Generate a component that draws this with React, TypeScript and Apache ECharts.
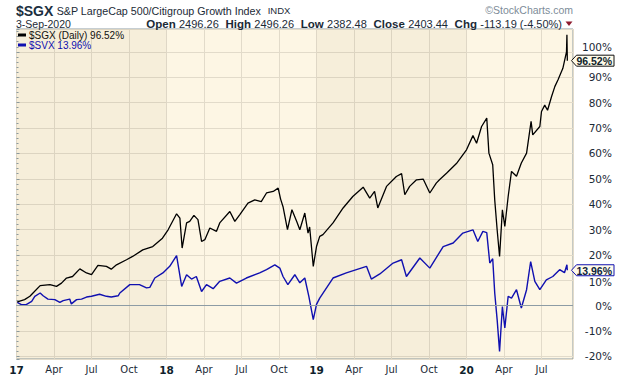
import { useEffect, useRef } from 'react';
import * as echarts from 'echarts';

// ---- Data (percent change since Jan 2017) ----
const sgxDates = [
  '2017-01-03','2017-01-21','2017-02-03','2017-02-10','2017-02-26','2017-03-22','2017-04-07','2017-04-19',
  '2017-05-01','2017-05-16','2017-06-03','2017-06-19','2017-07-01','2017-07-17','2017-08-07','2017-08-19',
  '2017-09-01','2017-09-25','2017-10-10','2017-11-04','2017-11-28','2017-12-22','2018-01-05','2018-01-26',
  '2018-02-03','2018-02-08','2018-02-18','2018-02-25','2018-03-07','2018-03-17','2018-03-26','2018-04-03',
  '2018-04-15','2018-05-01','2018-05-09','2018-06-03','2018-06-15','2018-06-27','2018-07-17','2018-08-03',
  '2018-08-19','2018-09-01','2018-09-17','2018-09-29','2018-10-05','2018-10-11','2018-10-22','2018-11-02',
  '2018-11-14','2018-11-21','2018-12-03','2018-12-11','2018-12-15','2018-12-24','2019-01-01','2019-01-09',
  '2019-01-17','2019-02-10','2019-03-05','2019-03-29','2019-04-23','2019-05-09','2019-05-21','2019-05-29',
  '2019-06-19','2019-07-13','2019-07-26','2019-08-03','2019-08-15','2019-09-01','2019-09-17','2019-10-03',
  '2019-10-19','2019-10-27','2019-11-13','2019-12-07','2020-01-01','2020-01-17','2020-01-26','2020-02-07',
  '2020-02-19','2020-02-24','2020-03-04','2020-03-09','2020-03-15','2020-03-21','2020-03-28','2020-04-03',
  '2020-04-11','2020-04-19','2020-05-01','2020-05-13','2020-05-26','2020-06-06','2020-06-10','2020-06-27',
  '2020-07-01','2020-07-09','2020-07-16','2020-07-26','2020-08-03','2020-08-11','2020-08-23','2020-09-01',
  '2020-09-02','2020-09-03',
];
const sgxValues = [
  1.5, 2.4, 3.7, 5.0, 7.9, 8.3, 7.6, 8.9,
  10.9, 11.5, 14.5, 12.9, 12.2, 15.9, 15.5, 14.4,
  16.1, 18.1, 19.4, 22.0, 23.3, 26.6, 29.9, 36.2,
  34.5, 22.7, 32.6, 33.2, 35.6, 33.9, 25.3, 26.0,
  30.6, 29.3, 32.6, 37.1, 33.2, 35.9, 40.4, 41.7,
  41.0, 44.4, 45.0, 46.3, 42.0, 39.0, 30.0, 37.8,
  33.0, 29.9, 36.5, 28.6, 31.0, 15.5, 23.3, 27.3,
  28.0, 32.6, 38.5, 43.0, 46.7, 42.4, 45.0, 38.5,
  47.0, 50.9, 52.0, 43.7, 47.0, 49.6, 49.9, 44.4,
  48.3, 49.6, 52.2, 56.0, 61.4, 67.0, 64.0, 70.6,
  73.9, 60.1, 55.5, 41.7, 29.9, 19.4, 37.8, 31.2,
  43.0, 52.9, 51.0, 56.2, 60.1, 72.6, 67.3, 70.6,
  76.5, 79.0, 77.0, 82.4, 86.3, 89.0, 93.5, 100.0,
  106.7, 96.52,
];

const svxDates = [
  '2017-01-03','2017-01-13','2017-01-25','2017-02-07','2017-02-14','2017-02-26','2017-03-05','2017-03-17',
  '2017-04-03','2017-04-15','2017-04-23','2017-05-09','2017-05-13','2017-05-26','2017-06-07','2017-06-19',
  '2017-07-01','2017-07-21','2017-08-07','2017-08-19','2017-09-05','2017-09-09','2017-10-03','2017-10-27',
  '2017-11-13','2017-11-21','2017-12-03','2017-12-23','2018-01-09','2018-01-26','2018-02-01','2018-02-07',
  '2018-02-18','2018-03-01','2018-03-13','2018-03-26','2018-04-07','2018-04-23','2018-05-09','2018-06-03',
  '2018-06-19','2018-07-13','2018-08-15','2018-09-01','2018-09-21','2018-10-03','2018-10-11','2018-10-23',
  '2018-11-09','2018-11-21','2018-12-03','2018-12-13','2018-12-24','2019-01-01','2019-01-09','2019-02-10',
  '2019-03-13','2019-05-01','2019-05-13','2019-06-03','2019-07-05','2019-07-26','2019-08-07','2019-09-09',
  '2019-10-03','2019-11-05','2019-11-29','2019-12-23','2020-01-17','2020-01-29','2020-02-10','2020-02-19',
  '2020-02-26','2020-03-04','2020-03-09','2020-03-15','2020-03-21','2020-03-28','2020-04-03','2020-04-11',
  '2020-04-19','2020-05-01','2020-05-13','2020-05-26','2020-06-05','2020-06-15','2020-06-27','2020-07-13',
  '2020-07-29','2020-08-15','2020-08-27','2020-09-02','2020-09-03',
];
const svxValues = [
  1.3, 0.4, 0.4, 1.7, 3.7, 5.0, 3.9, 2.6,
  2.4, 1.3, 2.0, 2.6, 0.7, 2.4, 2.6, 3.4,
  3.7, 4.5, 3.7, 3.4, 3.9, 5.0, 8.3, 8.3,
  7.0, 7.2, 10.9, 12.9, 15.5, 19.7, 14.0, 7.6,
  12.2, 10.5, 11.5, 5.6, 8.3, 6.7, 9.6, 10.9,
  8.9, 10.9, 12.9, 14.2, 16.1, 14.8, 11.5, 8.3,
  12.2, 9.0, 10.9, 3.7, -5.5, 0.5, 3.0, 10.9,
  12.9, 15.5, 10.5, 12.5, 16.8, 18.1, 11.5, 18.8,
  14.8, 23.3, 24.7, 28.6, 29.9, 25.3, 29.3, 28.8,
  16.8, 18.5, 5.0, -5.5, -18.0, -0.3, -8.8, 3.7,
  3.0, 6.3, -0.9, 6.3, 17.4, 9.6, 6.3, 10.2,
  11.5, 14.2, 13.0, 16.1, 13.96,
];

const yearLabels = ['17', '18', '19', '20'];
const quarterLabels = ['Apr', 'Jul', 'Oct'];
const sgxName = '$SGX (Daily)';
const svxName = '$SVX';
const ohlc = [
  ['Open', '2496.26'],
  ['High', '2496.26'],
  ['Low', '2382.48'],
  ['Close', '2403.44'],
  ['Chg', '-113.19 (-4.50%)'],
];

const toMonthIndex = (d: string) => {
  const [y, m, day] = d.split('-').map(Number);
  const dim = new Date(y, m, 0).getDate();
  return (y - 2017) * 12 + (m - 1) + (day - 1) / dim;
};

const X_MAX = 44.52;
const TEXT = '#1b2a36';
const SANS = '"Liberation Sans", Arial, sans-serif';
const VERD = '"DejaVu Sans", Verdana, sans-serif';

export default function App() {
  const ref = useRef<HTMLDivElement>(null);

  useEffect(() => {
    if (!ref.current) return;
    const chart = echarts.init(ref.current, null, { renderer: 'svg' });
    const sgxData = sgxDates.map((d, i) => [toMonthIndex(d), sgxValues[i]]);
    const svxData = svxDates.map((d, i) => [toMonthIndex(d), svxValues[i]]);
    const sgxLast = sgxValues[sgxValues.length - 1];
    const svxLast = svxValues[svxValues.length - 1];

    const ohlcRich = ohlc.map(([k, v]) => `{b|${k}} {n|${v}}`).join('  ');

    chart.setOption({
      animation: false,
      backgroundColor: '#ffffff',
      textStyle: { fontFamily: SANS },
      grid: {
        left: 16.5, right: 47, top: 29, bottom: 17,
        show: true, backgroundColor: '#fdf6e4', borderColor: '#8d9ca5', borderWidth: 1,
      },
      legend: {
        orient: 'vertical', left: 18, top: 30, padding: 0, itemGap: 0,
        itemWidth: 8, itemHeight: 3, icon: 'rect',
        data: [
          { name: sgxName, textStyle: { color: '#111111' } },
          { name: svxName, textStyle: { color: '#1010b0' } },
        ],
        textStyle: { fontSize: 10, fontFamily: SANS, lineHeight: 9.5, padding: [0, 0, 0, -2] },
        formatter: (n: string) => (n === sgxName ? `${n} ${sgxLast.toFixed(2)}%` : `${n} ${svxLast.toFixed(2)}%`),
        selectedMode: false,
      },
      xAxis: {
        type: 'value', min: 0, max: X_MAX, interval: 3,
        axisLine: { show: false }, axisTick: { show: false },
        splitLine: { show: true, lineStyle: { color: '#e2dbca', width: 1 } },
        axisLabel: {
          margin: 5, fontSize: 10, color: TEXT, fontFamily: VERD, showMaxLabel: false,
          formatter: (v: number) => {
            if (Math.abs(v - Math.round(v)) > 1e-6 || v % 3 !== 0) return '';
            if (v % 12 === 0) return `{y|${yearLabels[v / 12]}}`;
            return quarterLabels[(v % 12) / 3 - 1];
          },
          rich: { y: { fontWeight: 'bold', fontSize: 10.5, color: '#0f1f2c', fontFamily: VERD } },
        },
      },
      yAxis: {
        type: 'value', position: 'right', min: -21, max: 109, splitNumber: 13,
        axisLine: { show: false },
        axisTick: { show: true, length: 3, lineStyle: { color: '#8d9ca5' } },
        minorTick: { show: true, splitNumber: 5, length: 2, lineStyle: { color: '#8d9ca5' } },
        splitLine: { show: true, lineStyle: { color: '#e2dbca', width: 1 } },
        axisLabel: {
          align: 'right', margin: 39, fontSize: 10.5, color: TEXT, fontFamily: VERD,
          formatter: (v: number) => {
            const r = Math.round(v);
            if (Math.abs(v - r) > 1e-6 || r % 10 !== 0 || r < -20 || r > 100) return '';
            // labels nudged away from the value tags, as in the reference
            if (r === 100) return `{up|${r}%}`;
            if (r === 10) return `{dn|${r}%}`;
            return `${r}%`;
          },
          rich: {
            up: { fontSize: 10.5, color: TEXT, fontFamily: VERD, padding: [0, 0, 9, 0] },
            dn: { fontSize: 10.5, color: TEXT, fontFamily: VERD, padding: [3, 0, 0, 0] },
          },
        },
      },
      series: [
        {
          name: 'bands', type: 'line', data: [], z: 1, silent: true,
          markArea: {
            silent: true,
            itemStyle: { color: 'rgba(90,60,0,0.045)' },
            data: [
              [{ xAxis: 0 }, { xAxis: 12 }],
              [{ xAxis: 24 }, { xAxis: 36 }],
            ],
          },
          markLine: {
            silent: true, symbol: 'none', label: { show: false },
            lineStyle: { color: '#8d9ca5', width: 1, type: 'solid' },
            data: [{ yAxis: 0 }],
          },
        },
        {
          name: svxName, type: 'line', data: svxData, showSymbol: false, z: 3,
          lineStyle: { color: '#1010b0', width: 1.4 }, itemStyle: { color: '#1010b0' },
        },
        {
          name: sgxName, type: 'line', data: sgxData, showSymbol: false, z: 4,
          lineStyle: { color: '#000000', width: 1.3 }, itemStyle: { color: '#000000' },
        },
      ],
    });

    const tag = (v: number, border: string, textColor: string) => {
      const [, y] = chart.convertToPixel({ xAxisIndex: 0, yAxisIndex: 0 }, [X_MAX, v]) as number[];
      const x0 = 571.5;
      return [
        {
          type: 'polygon', z: 100,
          shape: { points: [[x0, y], [x0 + 5, y - 5.5], [614, y - 5.5], [614, y + 5.5], [x0 + 5, y + 5.5]] },
          style: { fill: '#fffbea', stroke: border, lineWidth: 1 },
        },
        {
          type: 'text', z: 101, x: 612, y: y + 0.5,
          style: {
            text: `${v.toFixed(2)}%`, align: 'right', verticalAlign: 'middle',
            font: `bold 10.5px ${SANS}`, fill: textColor,
          },
        },
      ];
    };

    chart.setOption({
      graphic: [
        {
          type: 'text', x: 16, y: 10.5,
          style: {
            text: '{t|$SGX} {s|S&P LargeCap 500/Citigroup Growth Index}  {i|INDX}',
            verticalAlign: 'middle',
            rich: {
              t: { fontWeight: 'bold', fontSize: 14, lineHeight: 12, fill: '#1b2f3f', fontFamily: SANS },
              s: { fontSize: 10.7, lineHeight: 12, fill: TEXT, fontFamily: SANS },
              i: { fontSize: 9.5, lineHeight: 12, fill: TEXT, fontFamily: SANS },
            },
          },
        },
        {
          type: 'text', x: 16, y: 24,
          style: { text: '3-Sep-2020', font: `10.5px ${SANS}`, lineHeight: 11, fill: TEXT, verticalAlign: 'middle' },
        },
        {
          type: 'text', x: 562, y: 24,
          style: {
            text: ohlcRich, align: 'right', verticalAlign: 'middle',
            rich: {
              b: { fontWeight: 'bold', fontSize: 11.5, lineHeight: 11, fill: TEXT, fontFamily: SANS },
              n: { fontSize: 11, lineHeight: 11, fill: TEXT, fontFamily: SANS },
            },
          },
        },
        {
          type: 'polygon',
          shape: { points: [[565.5, 21.5], [572.5, 21.5], [569, 26]] },
          style: { fill: '#8e1b2e' },
        },
        {
          type: 'text', x: 573, y: 10,
          style: { text: '©StockCharts.com', align: 'right', verticalAlign: 'middle', font: `10.5px ${SANS}`, lineHeight: 11, fill: '#7d8c98' },
        },
        ...tag(sgxLast, '#111111', '#0f1f2c'),
        ...tag(svxLast, '#1010b0', '#0f1f3c'),
      ],
    });

    return () => chart.dispose();
  }, []);

  return <div ref={ref} style={{ width: 620, height: 376, position: 'absolute', left: 0, top: 0 }} />;
}
